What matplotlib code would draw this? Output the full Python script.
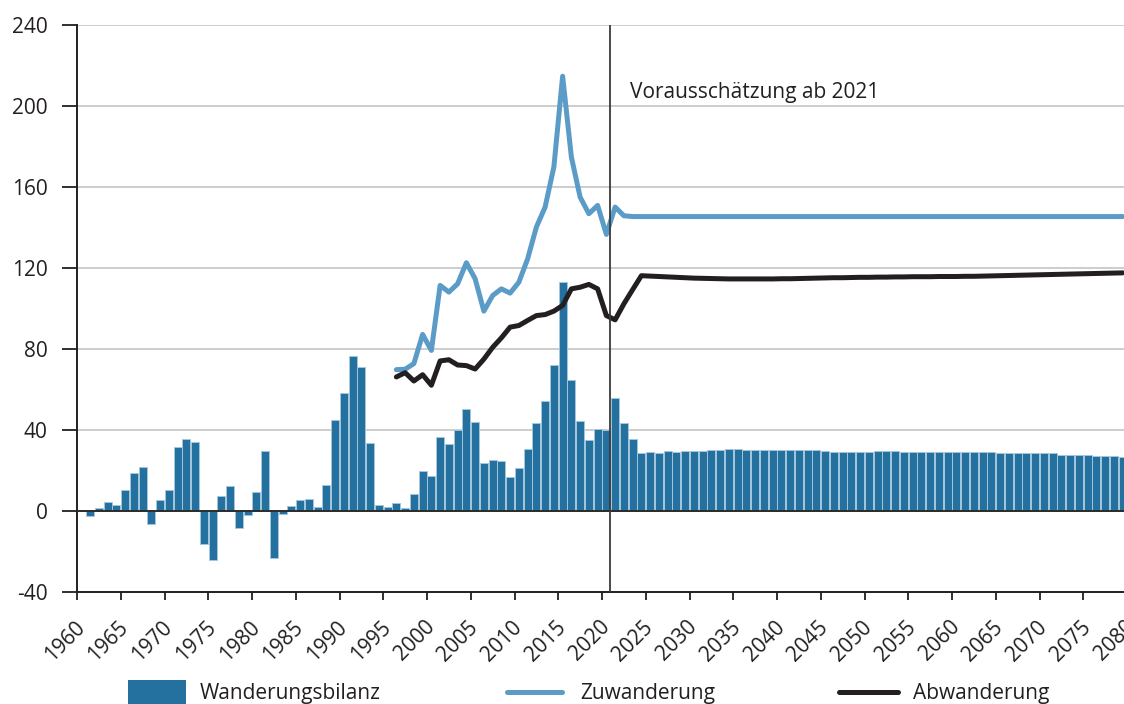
import numpy as np
import matplotlib
matplotlib.use("Agg")
import matplotlib.pyplot as plt
from matplotlib.patches import Rectangle
from matplotlib.lines import Line2D

plt.rcParams['font.family'] = ['Open Sans', 'DejaVu Sans']

# Wanderungsbilanz (in 1000), 1961-2079
bar_years = list(range(1961, 2080))
bilanz = [
    -2.5, 1.5, 4.3, 3.0, 10.2, 18.8, 21.7, -6.6, 5.3, 10.2,      # 1961-1970
    31.6, 35.6, 34.1, -16.3, -24.4, 7.4, 12.3, -8.6, -2.1, 9.4,  # 1971-1980
    29.6, -23.4, -1.6, 2.6, 5.3, 5.9, 2.1, 13.0, 44.8, 58.4,     # 1981-1990
    76.7, 71.3, 33.6, 3.0, 1.8, 3.8, 1.3, 8.4, 19.6, 17.3,       # 1991-2000
    36.5, 33.1, 39.8, 50.5, 44.1, 23.9, 25.2, 24.5, 16.8, 21.4,  # 2001-2010
    30.6, 43.5, 54.5, 72.3, 113.1, 64.7, 44.4, 35.2, 40.3, 40.0, # 2011-2020
    55.6, 43.3, 35.7, 28.4, 28.9, 28.8, 29.6, 29.3, 29.4, 29.8,  # 2021-2030
    29.8, 29.9, 29.9, 30.4, 30.4, 30.1, 30.1, 30.1, 30.1, 30.1,  # 2031-2040
    29.9, 29.9, 30.1, 30.1, 29.6, 29.3, 29.3, 29.3, 29.3, 29.3,  # 2041-2050
    29.6, 29.6, 29.6, 29.1, 29.1, 29.1, 29.1, 29.1, 29.1, 29.1,  # 2051-2060
    29.1, 28.9, 28.9, 29.1, 28.8, 28.6, 28.6, 28.6, 28.4, 28.6,  # 2061-2070
    28.4, 27.9, 27.9, 27.9, 27.6, 27.4, 27.2, 27.2, 26.9,        # 2071-2079
]

# Zuwanderung / Abwanderung (in 1000), 1996-2079
line_years = list(range(1996, 2080))
zuwanderung = [
    69.8, 70.0, 72.8, 87.2, 79.3,                                 # 1996-2000
    111.4, 108.1, 112.2, 122.6, 114.7, 98.7, 106.4, 109.7, 107.6, 113.0,  # 2001-2010
    124.5, 140.2, 150.1, 169.9, 214.7, 174.8, 155.0, 146.8, 150.9, 136.6,  # 2011-2020
    150.1, 145.8, 145.4, 145.4, 145.4, 145.4, 145.4, 145.4, 145.4, 145.4,  # 2021-2030
    145.4, 145.4, 145.4, 145.4, 145.4, 145.4, 145.4, 145.4, 145.4, 145.4,  # 2031-2040
    145.4, 145.4, 145.4, 145.4, 145.4, 145.4, 145.4, 145.4, 145.4, 145.4,  # 2041-2050
    145.4, 145.4, 145.4, 145.4, 145.4, 145.4, 145.4, 145.4, 145.4, 145.4,  # 2051-2060
    145.4, 145.4, 145.4, 145.4, 145.4, 145.4, 145.4, 145.4, 145.4, 145.4,  # 2061-2070
    145.4, 145.4, 145.4, 145.4, 145.4, 145.4, 145.4, 145.4, 145.4,         # 2071-2079
]
abwanderung = [
    66.2, 68.3, 64.2, 67.3, 62.1,                                 # 1996-2000
    74.1, 74.7, 72.1, 71.8, 70.1, 75.0, 80.8, 85.5, 90.8, 91.6,   # 2001-2010
    94.1, 96.5, 97.0, 98.7, 101.5, 109.7, 110.5, 111.9, 109.7, 96.5,  # 2011-2020
    94.4, 102.3, 109.3, 116.2, 116.0, 115.8, 115.6, 115.4, 115.2, 115.0,  # 2021-2030
    114.9, 114.8, 114.7, 114.6, 114.6, 114.6, 114.6, 114.6, 114.6, 114.7,  # 2031-2040
    114.7, 114.8, 114.9, 115.0, 115.1, 115.2, 115.2, 115.3, 115.4, 115.4,  # 2041-2050
    115.5, 115.5, 115.6, 115.6, 115.7, 115.7, 115.7, 115.8, 115.8, 115.8,  # 2051-2060
    115.9, 115.9, 116.0, 116.1, 116.2, 116.3, 116.4, 116.5, 116.6, 116.7,  # 2061-2070
    116.8, 116.9, 117.0, 117.1, 117.2, 117.3, 117.4, 117.5, 117.6,         # 2071-2079
]

yticks = [-40, 0, 40, 80, 120, 160, 200, 240]
xlabels = list(range(1960, 2085, 5))

bar_col = '#24709e'
edge_col = '#a3c6dd'
zu_col = '#5b9bc7'
ab_col = '#231f20'
grid_col = '#c9c9c9'

W, H = 1124, 704
fig = plt.figure(figsize=(W / 100, H / 100), dpi=100)
# axes placed in pixels; the right edge runs past the figure like in the source
x0, x1 = 77, 77 + 121 * 8.75
y_top, y_bot = 25, 592
ax = fig.add_axes([x0 / W, (H - y_bot) / H, (x1 - x0) / W, (y_bot - y_top) / H])

ax.set_xlim(1959.5, 2080.5)
ax.set_ylim(-40, 240)

for y in yticks[2:]:
    ax.axhline(y, color=grid_col, lw=1.3, zorder=0)

ax.bar(bar_years, bilanz, width=0.9, color=bar_col, edgecolor=edge_col,
       linewidth=0.7, zorder=2)
ax.axhline(0, color='#2b2b2b', lw=1.4, zorder=3)

ax.plot(line_years, zuwanderung, color=zu_col, lw=3.6, zorder=4,
        solid_joinstyle='round', solid_capstyle='round')
ax.plot(line_years, abwanderung, color=ab_col, lw=3.6, zorder=4,
        solid_joinstyle='round', solid_capstyle='round')

ax.axvline(2020.4, color='#3a3a3a', lw=1.3, zorder=5)
ax.text(2022.7, 206.5, 'Vorausschätzung ab 2021', fontsize=15, color='#231f20',
        ha='left', va='center')

for s in ['top', 'right']:
    ax.spines[s].set_visible(False)
for s in ['left', 'bottom']:
    ax.spines[s].set_color('#231f20')
    ax.spines[s].set_linewidth(1.4)

ax.set_yticks(yticks)
ax.set_yticklabels([str(v) for v in yticks])
ax.tick_params(axis='y', direction='out', length=11, width=1.3, pad=10,
               labelsize=15, colors='#231f20')

# tick marks between categories, labels on the category
ax.set_xticks([v - 0.5 for v in xlabels])
ax.set_xticklabels([''] * len(xlabels))
ax.tick_params(axis='x', which='major', direction='out', length=6, width=1.3,
               colors='#231f20')
ax.set_xticks(xlabels, minor=True)
ax.set_xticklabels([str(v) for v in xlabels], minor=True, rotation=45,
                   ha='right', va='center', rotation_mode='anchor')
ax.tick_params(axis='x', which='minor', length=0, pad=23, labelsize=15,
               colors='#231f20')

# legend along the bottom edge
def px(x, y):
    return x / W, (H - y) / H

lx, ly = px(128, 706)
fig.add_artist(Rectangle((lx, ly), 58 / W, 26 / H, transform=fig.transFigure,
                         facecolor=bar_col, edgecolor='none'))
fig.text(*px(200, 693), 'Wanderungsbilanz', fontsize=15, color='#231f20', va='center')
fig.add_artist(Line2D([507 / W, 562 / W], [(H - 692) / H] * 2, transform=fig.transFigure,
                      color=zu_col, lw=3.6, solid_capstyle='round'))
fig.text(*px(580, 693), 'Zuwanderung', fontsize=15, color='#231f20', va='center')
fig.add_artist(Line2D([839 / W, 898 / W], [(H - 692) / H] * 2, transform=fig.transFigure,
                      color=ab_col, lw=3.6, solid_capstyle='round'))
fig.text(*px(913, 693), 'Abwanderung', fontsize=15, color='#231f20', va='center')

fig.savefig('out.png', dpi=100)
